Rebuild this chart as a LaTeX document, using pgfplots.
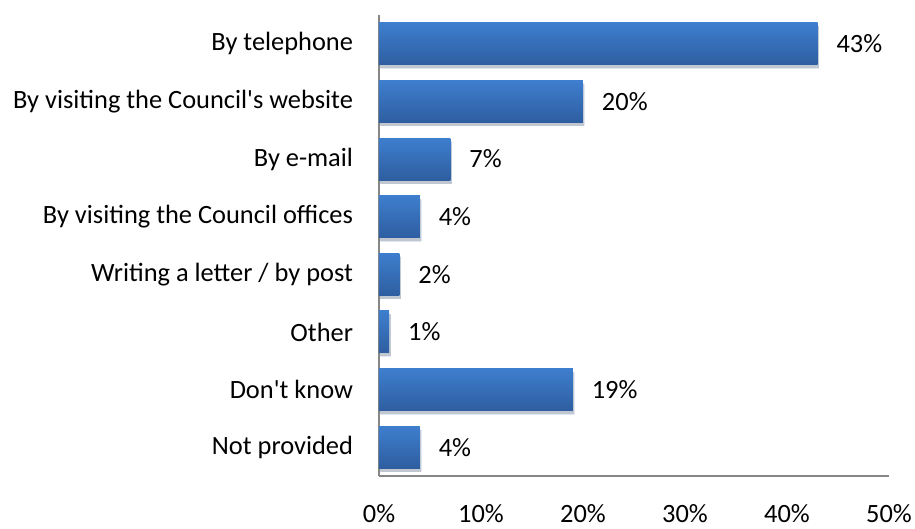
\documentclass[border=0pt]{standalone}
\usepackage{pgfplots}
\pgfplotsset{compat=1.18}
\usepackage{fontspec}
\setmainfont{Carlito}[Ligatures=TeXOff]
\definecolor{bartop}{RGB}{62,126,206}
\definecolor{barbot}{RGB}{46,94,160}
\definecolor{axisgray}{RGB}{134,134,134}
\pgfplotsset{
  mybar/.style={draw=none, top color=bartop, bottom color=barbot,
    preaction={fill=black, opacity=0.15, transform canvas={xshift=1.5bp, yshift=-3.5bp}}},
}
\begin{document}
\fontsize{26.5}{30}\selectfont
\begin{tikzpicture}
\begin{axis}[
  scale only axis,
  width=510bp, height=461bp,
  xmin=0, xmax=50,
  ymin=-0.5, ymax=7.5,
  y dir=reverse,
  axis x line*=bottom,
  axis y line*=left,
  axis line style={axisgray, line width=1.5bp},
  xtick={0,10,20,30,40,50},
  xticklabels={0\%,10\%,20\%,30\%,40\%,50\%},
  ytick={0,1,2,3,4,5,6,7},
  yticklabels={By telephone,By visiting the Council's website,By e-mail,By visiting the Council offices,Writing a letter / by post,Other,Don't know,Not provided},
  major tick length=0pt,
  x tick label style={yshift=-27bp, font=\fontsize{26.5}{30}\selectfont, inner sep=1bp},
  y tick label style={xshift=-17bp, font=\fontsize{26.5}{30}\selectfont, anchor=east},
  xbar,
  bar width=42bp,
  bar shift=0pt,
  clip=false,
  nodes near coords={\pgfmathprintnumber{\pgfplotspointmeta}\%},
  nodes near coords style={anchor=west, xshift=10bp, font=\fontsize{26.5}{30}\selectfont, black},
  point meta=x,
  /pgf/number format/assume math mode=true,
]
\addplot[mybar] coordinates {(43,0)};
\addplot[mybar] coordinates {(20,1)};
\addplot[mybar] coordinates {(7,2)};
\addplot[mybar] coordinates {(4,3)};
\addplot[mybar] coordinates {(2,4)};
\addplot[mybar] coordinates {(1,5)};
\addplot[mybar] coordinates {(19,6)};
\addplot[mybar] coordinates {(4,7)};
\end{axis}
\pgfresetboundingbox
\path[use as bounding box] ([shift={(-379bp,15bp)}]current axis.north west) rectangle ([shift={(26bp,-53bp)}]current axis.south east);
\end{tikzpicture}
\end{document}
